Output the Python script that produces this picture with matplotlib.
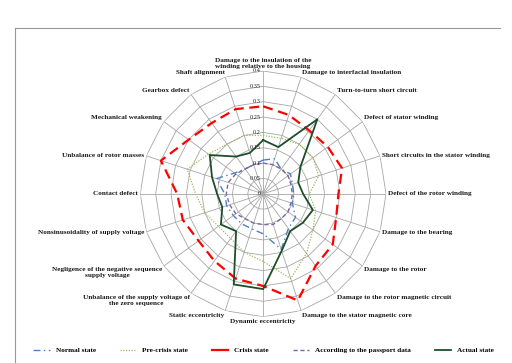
import numpy as np
import matplotlib.pyplot as plt
from matplotlib.lines import Line2D

plt.rcParams['font.family'] = ['Liberation Serif', 'DejaVu Serif']

categories = [
    'Damage to the insulation of the\nwinding relative to the housing',
    'Damage to interfacial insulation',
    'Turn-to-turn short circuit',
    'Defect of stator winding',
    'Short circuits in the stator winding',
    'Defect of the rotor winding',
    'Damage to the bearing',
    'Damage to the rotor',
    'Damage to the rotor magnetic circuit',
    'Damage to the stator magnetic core',
    'Dynamic eccentricity',
    'Static eccentricity',
    'Unbalance of the supply voltage of\nthe zero sequence',
    'Negligence of the negative sequence\nsupply voltage',
    'Nonsinusoidality of supply voltage',
    'Contact defect',
    'Unbalance of rotor masses',
    'Mechanical weakening',
    'Gearbox defect',
    'Shaft alignment',
]

normal_state = [0.11, 0.12, 0.10, 0.11, 0.10, 0.10, 0.10, 0.13, 0.14, 0.19,
                0.13, 0.12, 0.12, 0.12, 0.125, 0.125, 0.16, 0.115, 0.10, 0.10]
pre_crisis = [0.19, 0.19, 0.20, 0.20, 0.19, 0.15, 0.18, 0.20, 0.24, 0.29,
              0.22, 0.20, 0.18, 0.18, 0.20, 0.22, 0.26, 0.22, 0.20, 0.20]
crisis_state = [0.285, 0.27, 0.255, 0.26, 0.27, 0.245, 0.25, 0.28, 0.29, 0.365,
                0.30, 0.29, 0.27, 0.26, 0.275, 0.28, 0.35, 0.30, 0.285, 0.29]
passport = [0.10, 0.10, 0.10, 0.10, 0.095, 0.095, 0.095, 0.10, 0.10, 0.105,
            0.10, 0.10, 0.10, 0.11, 0.115, 0.12, 0.12, 0.11, 0.10, 0.10]
actual_state = [0.175, 0.16, 0.30, 0.15, 0.12, 0.13, 0.17, 0.16, 0.15, 0.195,
                0.31, 0.31, 0.15, 0.17, 0.14, 0.15, 0.175, 0.215, 0.15, 0.14]

r_ticks = [0, 0.05, 0.1, 0.15, 0.2, 0.25, 0.3, 0.35, 0.4]
r_labels = ['0', '0.05', '0.1', '0.15', '0.2', '0.25', '0.3', '0.35', '0.4']

n = len(categories)
theta = np.arange(n) * 2 * np.pi / n
theta_closed = np.append(theta, theta[0])


def closed(vals):
    return np.append(vals, vals[0])


fig = plt.figure(figsize=(5.12, 3.63), dpi=100)
ax = fig.add_axes([0.274, 0.127, 0.48, 0.678], projection='polar')
ax.set_theta_zero_location('N')
ax.set_theta_direction(-1)
ax.set_ylim(0, 0.4)
ax.grid(False)
ax.spines['polar'].set_visible(False)
ax.set_xticks([])
ax.set_yticks([])
ax.patch.set_alpha(0)

# polygonal rings and spokes like a spreadsheet radar chart
grid_col = '#a6a6a6'
for r in r_ticks[1:]:
    ax.plot(theta_closed, [r] * (n + 1), color=grid_col, lw=0.6, zorder=1)
for t in theta:
    ax.plot([t, t], [0, 0.4], color=grid_col, lw=0.6, zorder=1)

for r, lab in zip(r_ticks, r_labels):
    ax.annotate(lab, (0, r), xytext=(-2, 0), textcoords='offset points',
                ha='right', va='center', fontsize=4.5, color='#222222', zorder=5)

ax.plot(theta_closed, closed(pre_crisis), color='#9bbb59', lw=0.9,
        ls=(0, (1, 1.2)), zorder=3, label='Pre-crisis state')
ax.plot(theta_closed, closed(crisis_state), color='#ff0000', lw=1.6,
        ls=(0, (4.5, 2.5)), zorder=3, label='Crisis state')
ax.plot(theta_closed, closed(normal_state), color='#4f81bd', lw=1.0,
        ls=(0, (5, 2.5, 1, 2.5)), zorder=4, label='Normal state')
ax.plot(theta_closed, closed(passport), color='#8064a2', lw=1.0,
        ls=(0, (3, 2)), zorder=4, label='According to the passport data')
ax.plot(theta_closed, closed(actual_state), color='#1e4d2b', lw=1.3,
        zorder=4, label='Actual state')

for t, lab in zip(theta, categories):
    s, c = np.sin(t), np.cos(t)
    if abs(s) < 1e-6:
        ha = 'center'
    elif s > 0:
        ha = 'left'
    else:
        ha = 'right'
    if c > 0.5:
        va = 'bottom'
    elif c < -0.5:
        va = 'top'
    else:
        va = 'center'
    ax.annotate(lab, (t, 0.4), xytext=(1.5 * s, 1.5 * c), textcoords='offset points',
                ha=ha, va=va, fontsize=5.2, fontweight='bold', color='#1a1a1a',
                multialignment='center', annotation_clip=False)

handles = [
    Line2D([], [], color='#4f81bd', lw=1.0, ls=(0, (5, 2.5, 1, 2.5))),
    Line2D([], [], color='#9bbb59', lw=0.9, ls=(0, (1, 1.2))),
    Line2D([], [], color='#ff0000', lw=1.6),
    Line2D([], [], color='#8064a2', lw=1.0, ls=(0, (3, 2))),
    Line2D([], [], color='#1e4d2b', lw=1.3),
]
labels = ['Normal state', 'Pre-crisis state', 'Crisis state',
          'According to the passport data', 'Actual state']
leg = fig.legend(handles, labels, loc='center', bbox_to_anchor=(0.515, 0.035), ncol=5,
                 frameon=False, prop={'size': 5.2, 'weight': 'bold'},
                 handlelength=2.3, handletextpad=0.8, columnspacing=3.3)

# chart frame
fig.add_artist(Line2D([15 / 512, 15 / 512], [0, 1 - 28 / 363], color='#999999', lw=0.8))
fig.add_artist(Line2D([15 / 512, 500 / 512], [1 - 28 / 363, 1 - 28 / 363], color='#999999', lw=0.8))

fig.savefig('out.png', dpi=100)
